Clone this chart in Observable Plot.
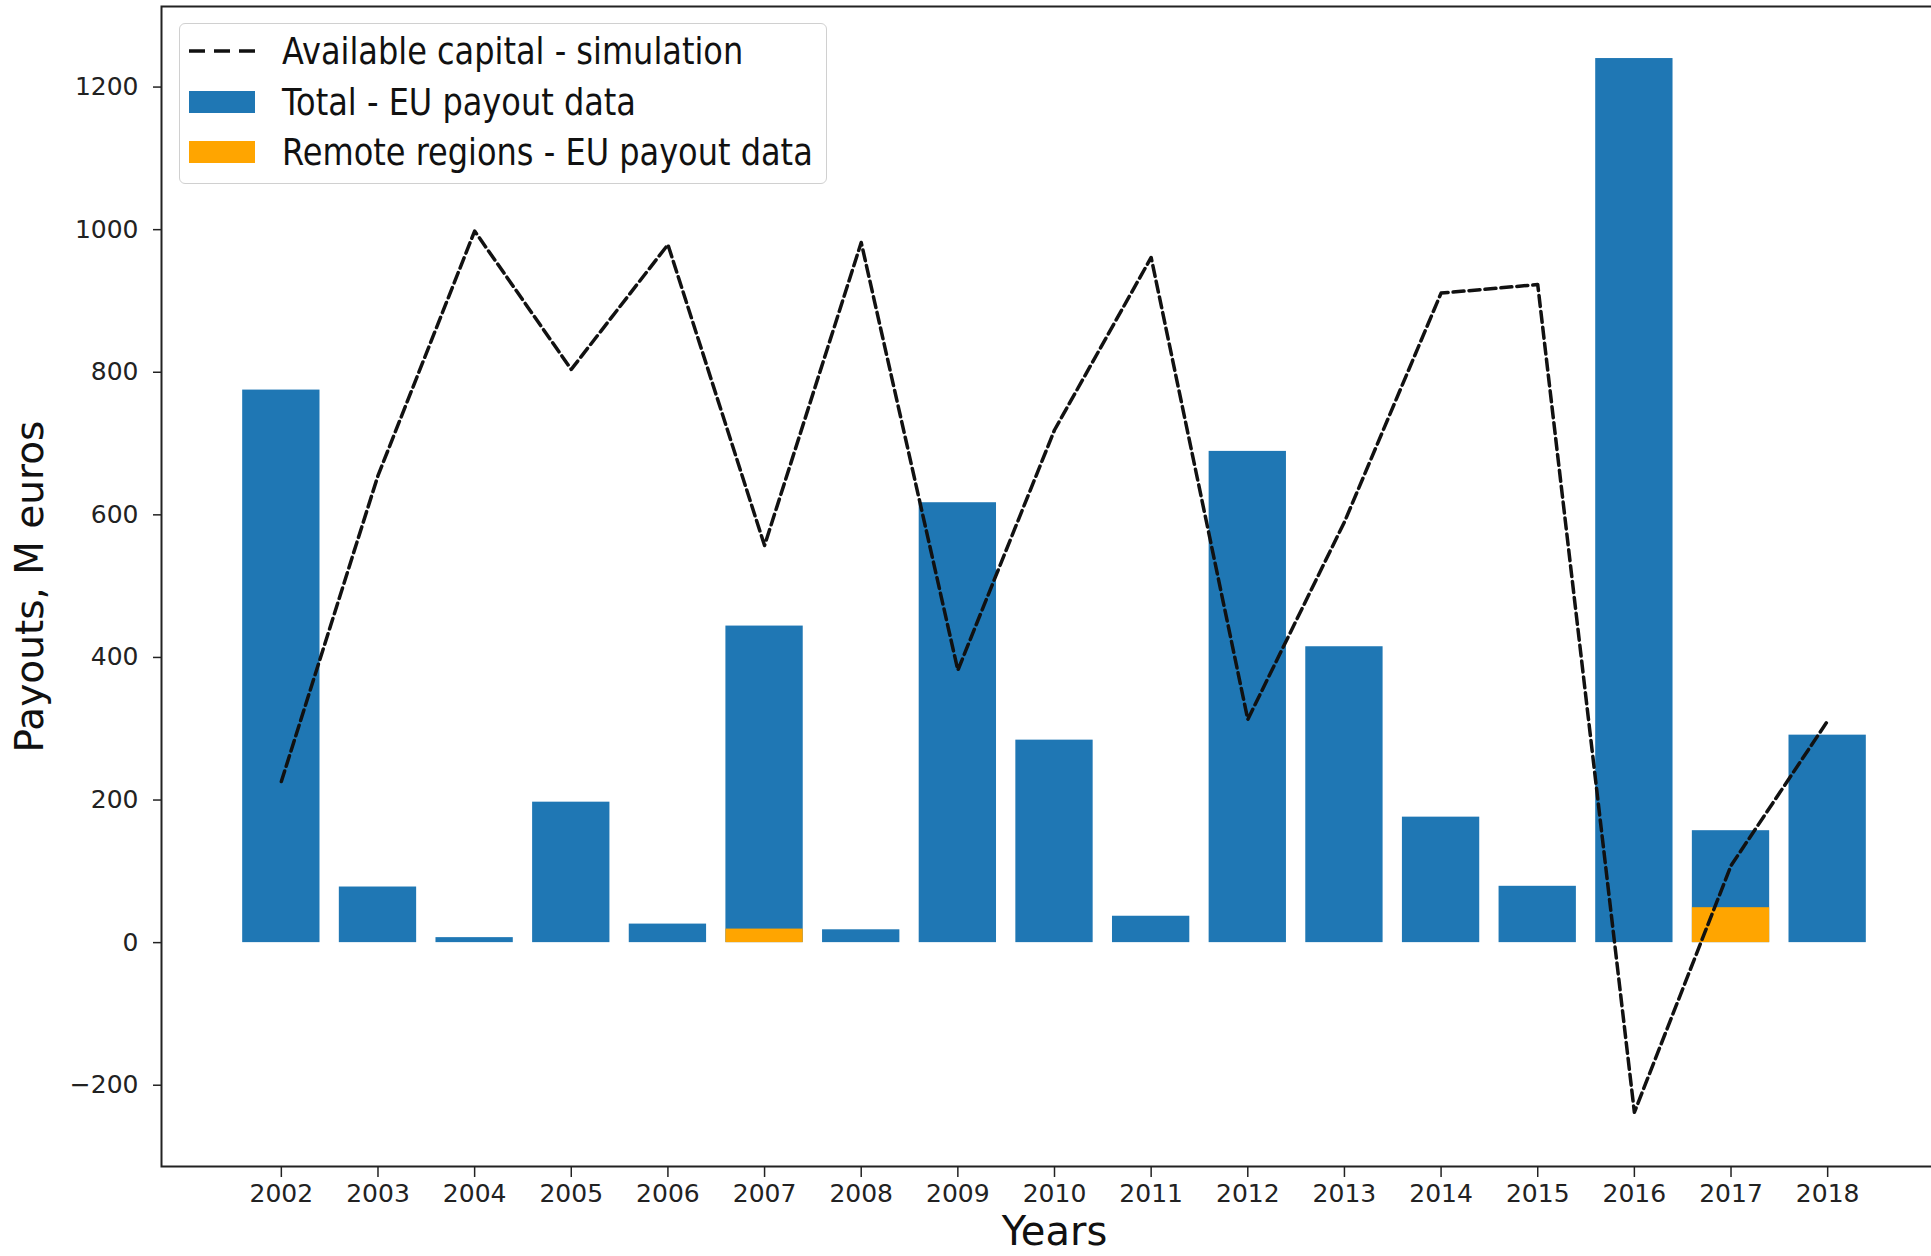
<!DOCTYPE html>
<html>
<head>
<meta charset="utf-8">
<script src="https://cdn.jsdelivr.net/npm/d3@7"></script>
<script src="https://cdn.jsdelivr.net/npm/@observablehq/plot@0.6"></script>
<style>
  html, body { margin: 0; padding: 0; background: #fff; overflow: hidden; }
  #wrap { position: relative; width: 1931px; height: 1256px; overflow: hidden; }
  #wrap > svg { max-width: none !important; width: 1960px !important; height: 1256px !important; display: block; }
  #legend {
    position: absolute; left: 179px; top: 23px; width: 646px; height: 159px;
    border: 1.5px solid #d0d0d0; border-radius: 6px; background: rgba(255,255,255,0.85);
    font-family: "DejaVu Sans", sans-serif; color: #111;
  }
  #legend .row { position: absolute; left: 0; height: 40px; width: 100%; }
  #legend .lab { position: absolute; left: 102px; top: 0; line-height: 40px; font-size: 32px;
    white-space: nowrap; transform: scaleY(1.17); transform-origin: left center; }
  #legend svg { position: absolute; left: 9px; top: 0; }
</style>
</head>
<body>
<div id="wrap"></div>
<script>
// ---- data ----
const years   = [2002, 2003, 2004, 2005, 2006, 2007, 2008, 2009, 2010, 2011, 2012, 2013, 2014, 2015, 2016, 2017, 2018];
const total   = [775, 78, 7, 197, 26, 444, 18, 617, 284, 37, 689, 415, 176, 79, 1240, 157, 291];
const remote  = [0, 0, 0, 0, 0, 19, 0, 0, 0, 0, 0, 0, 0, 0, 0, 49, 0];
const capital = [226, 655, 998, 804, 979, 557, 982, 382, 719, 961, 313, 590, 911, 923, -238, 108, 311];
const yTicks  = [-200, 0, 200, 400, 600, 800, 1000, 1200];
const seriesNames = ["Available capital - simulation", "Total - EU payout data", "Remote regions - EU payout data"];
const xLabel = "Years";
const yLabel = "Payouts, M euros";

const data = years.map((y, i) => ({year: y, total: total[i], remote: remote[i], capital: capital[i]}));
const barHalf = 0.4;
const fmtY = d => d < 0 ? "\u2212" + String(-d) : String(d);

const chart = Plot.plot({
  width: 1960,
  height: 1256,
  marginLeft: 161,
  marginRight: 13,
  marginTop: 6,
  marginBottom: 90,
  style: {fontFamily: "DejaVu Sans", fontSize: "25px", color: "#222", background: "#fff", maxWidth: "none"},
  x: {type: "linear", domain: [2000.76, 2019.24]},
  y: {type: "linear", domain: [-314, 1313]},
  marks: [
    Plot.rectY(data, {x1: d => d.year - barHalf, x2: d => d.year + barHalf, y1: 0, y2: "total", fill: "#1f77b4"}),
    Plot.rectY(data.filter(d => d.remote > 0), {x1: d => d.year - barHalf, x2: d => d.year + barHalf, y1: 0, y2: "remote", fill: "#ffa500"}),
    Plot.line(data, {x: "year", y: "capital", stroke: "#111", strokeWidth: 3.5, strokeDasharray: "11,5"}),
    Plot.frame({stroke: "#222", strokeWidth: 2}),
    Plot.axisX({ticks: years, tickFormat: d => String(d), tickSize: 11, tickPadding: 7, strokeWidth: 1.5, fontSize: 25, label: null}),
    Plot.axisY({ticks: yTicks, tickFormat: fmtY, tickSize: 8, tickPadding: 15, strokeWidth: 1.5, fontSize: 25, label: null}),
    Plot.text([xLabel], {text: d => d, frameAnchor: "bottom", dy: 78, lineAnchor: "bottom", fontSize: 40, fill: "#111"}),
    Plot.text([yLabel], {text: d => d, frameAnchor: "left", dx: -119, rotate: -90, textAnchor: "middle", lineAnchor: "bottom", fontSize: 39, fill: "#111"})
  ]
});

const wrap = document.getElementById("wrap");
wrap.appendChild(chart);

// legend (matplotlib-style, inside the axes, upper left)
const legend = document.createElement("div");
legend.id = "legend";
const rows = [
  {name: seriesNames[0], kind: "line", top: 7},
  {name: seriesNames[1], kind: "patch", fill: "#1f77b4", top: 58},
  {name: seriesNames[2], kind: "patch", fill: "#ffa500", top: 108}
];
for (const r of rows) {
  const row = document.createElement("div");
  row.className = "row";
  row.style.top = r.top + "px";
  const svg = d3.create("svg").attr("width", 66).attr("height", 40);
  if (r.kind === "line") {
    svg.append("line").attr("x1", 0).attr("x2", 66).attr("y1", 20).attr("y2", 20)
      .attr("stroke", "#111").attr("stroke-width", 3.5).attr("stroke-dasharray", "16,9");
  } else {
    svg.append("rect").attr("x", 0).attr("y", 9).attr("width", 66).attr("height", 22).attr("fill", r.fill);
  }
  row.appendChild(svg.node());
  const lab = document.createElement("div");
  lab.className = "lab";
  lab.textContent = r.name;
  row.appendChild(lab);
  legend.appendChild(row);
}
wrap.appendChild(legend);
</script>
</body>
</html>
